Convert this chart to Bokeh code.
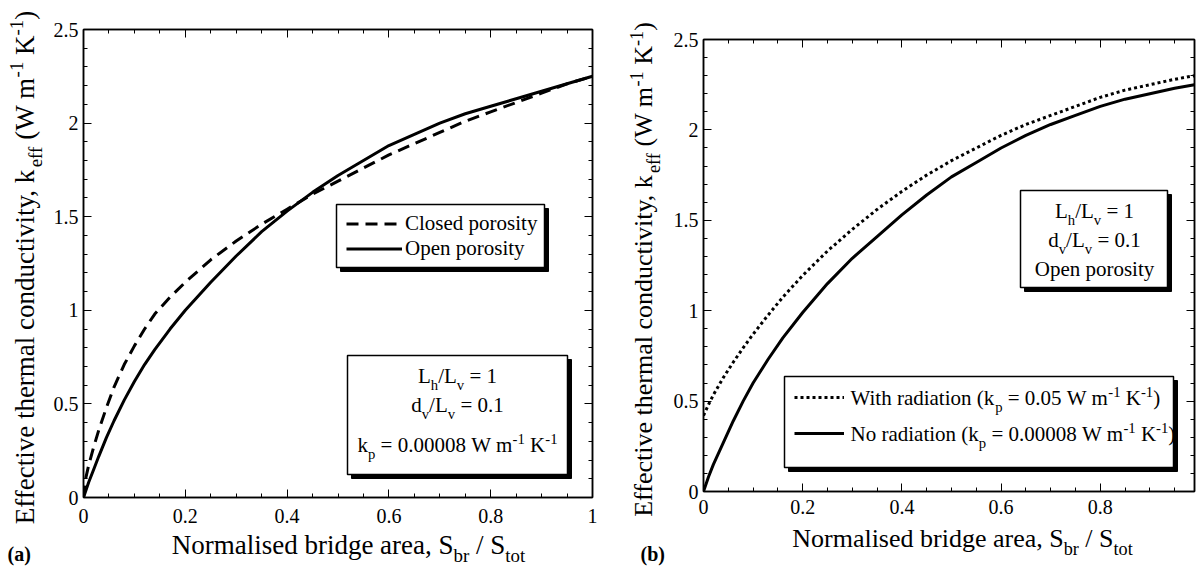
import math
from bokeh.plotting import figure
from bokeh.models import (Range1d, LinearAxis, SingleIntervalTicker, Label, BoxAnnotation,
                          Legend, LegendItem, CustomJSTickFormatter)
from bokeh.layouts import row, column
from bokeh.embed import file_html
from bokeh.resources import INLINE

# ---------------- data ----------------
sbr_a = [0, 0.005, 0.01, 0.02, 0.03, 0.045, 0.06, 0.08, 0.1, 0.12, 0.14, 0.17, 0.2, 0.25,
         0.3, 0.35, 0.4, 0.45, 0.5, 0.55, 0.6, 0.65, 0.7, 0.75, 0.8, 0.85, 0.9, 0.95, 1.0]
closed_a = [0, 0.11, 0.17, 0.27, 0.36, 0.48, 0.59, 0.71, 0.81, 0.9, 0.98, 1.07, 1.15, 1.27,
            1.37, 1.46, 1.54, 1.62, 1.69, 1.76, 1.83, 1.89, 1.95, 2.01, 2.06, 2.11, 2.16, 2.21, 2.25]
open_a = [0, 0.04, 0.08, 0.15, 0.22, 0.32, 0.41, 0.52, 0.62, 0.71, 0.79, 0.9, 1.0, 1.15,
          1.29, 1.42, 1.53, 1.63, 1.72, 1.8, 1.88, 1.94, 2.0, 2.05, 2.09, 2.13, 2.17, 2.21, 2.25]

sbr_b = [0, 0.01, 0.02, 0.04, 0.06, 0.08, 0.1, 0.13, 0.16, 0.2, 0.25, 0.3, 0.35, 0.4, 0.45,
         0.5, 0.55, 0.6, 0.65, 0.7, 0.75, 0.8, 0.85, 0.9, 0.95, 0.99]
rad_b = [0.42, 0.48, 0.535, 0.63, 0.715, 0.795, 0.87, 0.975, 1.075, 1.195, 1.33, 1.45, 1.56, 1.66,
         1.75, 1.83, 1.9, 1.97, 2.03, 2.08, 2.13, 2.18, 2.22, 2.25, 2.28, 2.30]
norad_b = [0, 0.08, 0.15, 0.27, 0.39, 0.5, 0.6, 0.73, 0.85, 0.99, 1.15, 1.29, 1.41, 1.53, 1.64,
           1.74, 1.82, 1.9, 1.97, 2.03, 2.08, 2.13, 2.17, 2.2, 2.23, 2.25]

x_tick_step = 0.2
y_tick_step = 0.5

FONT = "Liberation Serif"

# Times-compatible advance widths (per 1000 em)
WID = {' ': 250, '(': 333, ')': 333, '/': 278, '=': 564, '-': 333, '.': 250, ',': 250,
       'A': 722, 'E': 611, 'K': 722, 'L': 611, 'N': 722, 'O': 722, 'S': 556, 'W': 944, 'C': 667,
       'a': 444, 'b': 500, 'c': 444, 'd': 500, 'e': 444, 'f': 333, 'g': 500, 'h': 500, 'i': 278,
       'k': 500, 'l': 278, 'm': 778, 'n': 500, 'o': 500, 'p': 500, 'r': 333, 's': 389, 't': 278,
       'u': 500, 'v': 500, 'w': 722, 'y': 500, 'x': 500, 'R': 667}

BASE_CORR = 0.29   # observed baseline drop of rendered labels, in em


def tw(s, size):
    return sum(WID.get(c, 500) for c in s) / 1000.0 * size


class Geo:
    """maps window pixel coordinates to a figure's data coordinates"""
    def __init__(self, fl, fr, ft, fb, x0, x1, y0, y1):
        self.fl, self.fr, self.ft, self.fb = fl, fr, ft, fb
        self.x0, self.x1, self.y0, self.y1 = x0, x1, y0, y1

    def dx(self, px):
        return self.x0 + (px - self.fl) / (self.fr - self.fl) * (self.x1 - self.x0)

    def dy(self, py):
        return self.y0 + (self.fb - py) / (self.fb - self.ft) * (self.y1 - self.y0)


def rich(fig, g, segs, px, py, size, align="left", vertical=False, bold=False):
    sc = 0.7
    sizes = [size if k == "n" else size * sc for _, k in segs]
    widths = [tw(t, s) for (t, _), s in zip(segs, sizes)]
    total = sum(widths)
    pos = 0 if align == "left" else -total / 2
    for (t, k), s, w in zip(segs, sizes, widths):
        shift = 0 if k == "n" else (0.3 * size if k == "b" else -0.38 * size)
        shift -= BASE_CORR * s
        lead = len(t) - len(t.lstrip(" "))
        p0 = pos + tw(" " * lead, s)
        txt = t.strip(" ")
        if txt:
            if vertical:
                x, y, ang = px + shift, py - p0, math.pi / 2
            else:
                x, y, ang = px + p0, py + shift, 0
            fig.add_layout(Label(x=g.dx(x), y=g.dy(y), text=txt, text_font=FONT,
                                 text_font_size=f"{s:.1f}px", text_baseline="alphabetic",
                                 text_align="left", angle=ang, text_color="black",
                                 text_font_style="bold" if bold else "normal"))
        pos += w


def box(fig, g, l, r, t, b, sh=4):
    fig.add_layout(BoxAnnotation(left=g.dx(l + sh), right=g.dx(r + sh), top=g.dy(t + sh),
                                 bottom=g.dy(b + sh), fill_color="black", fill_alpha=1,
                                 line_color="black", line_alpha=1))
    fig.add_layout(BoxAnnotation(left=g.dx(l), right=g.dx(r), top=g.dy(t), bottom=g.dy(b),
                                 fill_color="white", fill_alpha=1, line_color="black",
                                 line_width=1.5, line_alpha=1))


fmt = CustomJSTickFormatter(code="return Number(tick.toFixed(2)).toString();")
blank_fmt = CustomJSTickFormatter(code="return '';")


def style_axis(ax, step, minors, labels=True):
    ax.ticker = SingleIntervalTicker(interval=step, num_minor_ticks=minors)
    ax.major_tick_in = 8
    ax.major_tick_out = 0
    ax.minor_tick_in = 4
    ax.minor_tick_out = 0
    ax.axis_line_color = "black"
    ax.axis_line_width = 1.5
    ax.major_tick_line_color = "black"
    ax.minor_tick_line_color = "black"
    ax.major_tick_line_width = 1
    ax.minor_tick_line_width = 1
    ax.major_label_text_font = FONT
    ax.major_label_text_color = "black"
    if labels:
        ax.formatter = fmt
        ax.major_label_text_font_size = "20px"
    else:
        ax.formatter = blank_fmt
        ax.major_label_text_font_size = "1px"
        ax.major_label_standoff = 0


def make_main(ox, W, H, fl, fr, ft, fb, xmax, xstand):
    p = figure(width=W, height=H, output_backend="svg", toolbar_location=None,
               x_range=Range1d(0, xmax), y_range=Range1d(0, 2.5),
               min_border_left=fl - ox, min_border_right=ox + W - fr,
               min_border_top=ft, min_border_bottom=H - fb)
    p.grid.visible = False
    p.outline_line_color = "black"
    p.outline_line_width = 1.5
    p.background_fill_color = "white"
    p.border_fill_color = "white"
    style_axis(p.xaxis[0], x_tick_step, 4)
    style_axis(p.yaxis[0], y_tick_step, 5)
    p.xaxis[0].major_label_standoff = xstand
    p.yaxis[0].major_label_standoff = 5
    top = LinearAxis()
    style_axis(top, x_tick_step, 4, labels=False)
    p.add_layout(top, "above")
    rgt = LinearAxis()
    style_axis(rgt, y_tick_step, 5, labels=False)
    p.add_layout(rgt, "right")
    return p, Geo(fl, fr, ft, fb, 0, xmax, 0, 2.5)


def make_textfig(ox, oy, W, H, bl=0, br=0):
    """figure used only to hold text; its frame spans window x ox+bl .. ox+W-br"""
    fw = W - bl - br
    p = figure(width=W, height=H, output_backend="svg", toolbar_location=None,
               title=None, x_range=Range1d(0, fw), y_range=Range1d(0, H),
               x_axis_location=None, y_axis_location=None,
               min_border=0, min_border_left=bl, min_border_right=br,
               min_border_top=0, min_border_bottom=0)
    p.grid.visible = False
    p.outline_line_color = None
    p.background_fill_color = "white"
    p.border_fill_color = "white"
    return p, Geo(ox + bl, ox + W - br, oy, oy + H, 0, fw, 0, H)


KUNIT = [(" W m", "n"), ("-1", "p"), (" K", "n"), ("-1", "p")]
YLAB = [("Effective thermal conductivity, k", "n"), ("eff", "b"), (" (W m", "n"), ("-1", "p"),
        (" K", "n"), ("-1", "p"), (")", "n")]
XLAB = [("Normalised bridge area, S", "n"), ("br", "b"), (" / S", "n"), ("tot", "b")]

# ---------------- panel (a) ----------------
ya, gya = make_textfig(0, 0, 50, 570)
pa, ga = make_main(50, 550, 530, 83, 592, 29, 497, 1.0, 11)
xa, gxa = make_textfig(50, 530, 550, 40, bl=33, br=8)

r_closed = pa.line(sbr_a, closed_a, line_color="black", line_width=3, line_dash="12 7")
r_open = pa.line(sbr_a, open_a, line_color="black", line_width=3)

box(pa, ga, 336, 544, 204, 267)
leg_a = Legend(items=[LegendItem(label="Closed porosity", renderers=[r_closed]),
                      LegendItem(label="Open porosity", renderers=[r_open])],
               location=(263, 236), padding=0, margin=0, spacing=0, glyph_width=56,
               glyph_height=25, label_height=25, label_standoff=3,
               label_text_font=FONT, label_text_font_size="21px", label_text_color="black",
               border_line_color=None, background_fill_alpha=0)
pa.add_layout(leg_a)

box(pa, ga, 347, 567, 355, 474)
rich(pa, ga, [("L", "n"), ("h", "b"), ("/L", "n"), ("v", "b"), (" = 1", "n")], 457, 382, 21, "center")
rich(pa, ga, [("d", "n"), ("v", "b"), ("/L", "n"), ("v", "b"), (" = 0.1", "n")], 457, 411, 21, "center")
rich(pa, ga, [("k", "n"), ("p", "b"), (" = 0.00008", "n")] + KUNIT, 457, 451, 21, "center")

rich(xa, gxa, XLAB, 348, 552, 27, "center")
rich(ya, gya, YLAB, 32, 267, 27, "center", vertical=True)
rich(ya, gya, [("(a)", "n")], 7, 559, 20, "left", bold=True)

# ---------------- panel (b) ----------------
yb, gyb = make_textfig(600, 0, 70, 570)
pb, gb = make_main(670, 528, 524, 703, 1194, 39, 491, 0.99, 8)
xb, gxb = make_textfig(670, 524, 528, 46, bl=33, br=4)

r_rad = pb.line(sbr_b, rad_b, line_color="black", line_width=3, line_dash="3 3")
r_norad = pb.line(sbr_b, norad_b, line_color="black", line_width=3)

box(pb, gb, 1020, 1167, 190, 287)
rich(pb, gb, [("L", "n"), ("h", "b"), ("/L", "n"), ("v", "b"), (" = 1", "n")], 1094, 217, 21, "center")
rich(pb, gb, [("d", "n"), ("v", "b"), ("/L", "n"), ("v", "b"), (" = 0.1", "n")], 1094, 246, 21, "center")
rich(pb, gb, [("Open porosity", "n")], 1094, 275, 21, "center")

box(pb, gb, 784, 1173, 376, 467)
leg_b = Legend(items=[LegendItem(label=" ", renderers=[r_rad]),
                      LegendItem(label=" ", renderers=[r_norad])],
               location=(91, 43), padding=0, margin=0, spacing=6, glyph_width=50,
               glyph_height=30, label_height=30, label_width=5, label_standoff=3,
               label_text_font=FONT, label_text_font_size="21px",
               border_line_color=None, background_fill_alpha=0)
pb.add_layout(leg_b)
rich(pb, gb, [("With radiation (k", "n"), ("p", "b"), (" = 0.05", "n")] + KUNIT + [(")", "n")],
     850, 404, 21, "left")
rich(pb, gb, [("No radiation (k", "n"), ("p", "b"), (" = 0.00008", "n")] + KUNIT + [(")", "n")],
     850, 440, 21, "left")

rich(xb, gxb, XLAB, 962, 546, 26, "center")
rich(yb, gyb, YLAB, 651, 269, 26, "center", vertical=True)
rich(yb, gyb, [("(b)", "n")], 640, 559, 20, "left", bold=True)

layout = row(ya, column(pa, xa), yb, column(pb, xb))
open("out.html", "w").write(file_html(layout, INLINE))
